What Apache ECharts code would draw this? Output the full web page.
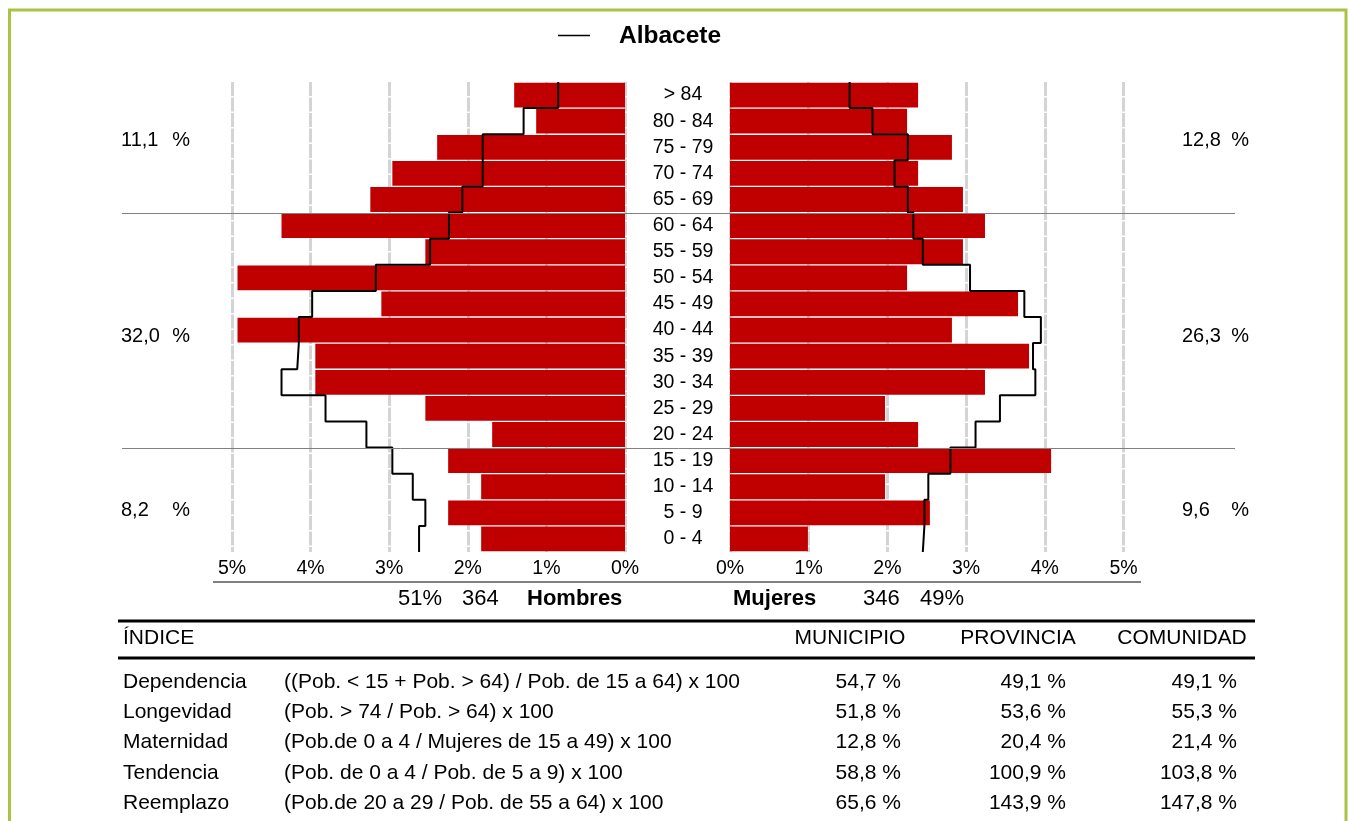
<!DOCTYPE html>
<html><head><meta charset="utf-8">
<script src="https://cdn.jsdelivr.net/npm/echarts@6/dist/echarts.min.js"></script>
<style>html,body{margin:0;padding:0;background:#fff}#c{width:1349px;height:821px}</style>
</head><body><div id="c"></div>
<script>
// ---- data (ordered bottom to top) ----
const categories = ['0 - 4','5 - 9','10 - 14','15 - 19','20 - 24','25 - 29','30 - 34','35 - 39','40 - 44','45 - 49','50 - 54','55 - 59','60 - 64','65 - 69','70 - 74','75 - 79','80 - 84','> 84'];
const hombres = [1.83, 2.25, 1.83, 2.25, 1.69, 2.54, 3.94, 3.94, 4.93, 3.10, 4.93, 2.54, 4.37, 3.24, 2.96, 2.39, 1.13, 1.41];
const mujeres = [0.99, 2.54, 1.97, 4.08, 2.39, 1.97, 3.24, 3.80, 2.82, 3.66, 2.25, 2.96, 3.24, 2.96, 2.39, 2.82, 2.25, 2.39];
const provHombres = [2.62, 2.54, 2.70, 2.96, 3.29, 3.81, 4.37, 4.17, 4.15, 3.98, 3.17, 2.48, 2.24, 2.07, 1.81, 1.81, 1.29, 0.85];
const provMujeres = [2.45, 2.47, 2.52, 2.80, 3.12, 3.43, 3.88, 3.85, 3.95, 3.74, 3.05, 2.45, 2.33, 2.26, 2.09, 2.26, 1.81, 1.52];
const legendName = 'Albacete';
const sideLeft = ['11,1', '32,0', '8,2'];
const sideRight = ['12,8', '26,3', '9,6'];
const hombresLabel = ['51%', '364', 'Hombres'];
const mujeresLabel = ['Mujeres', '346', '49%'];
const tableHeaders = ['ÍNDICE', 'MUNICIPIO', 'PROVINCIA', 'COMUNIDAD'];
const indexNames = ['Dependencia', 'Longevidad', 'Maternidad', 'Tendencia', 'Reemplazo'];
const indexFormulas = ['((Pob. < 15 + Pob. > 64) / Pob. de 15 a 64) x 100', '(Pob. > 74 / Pob. > 64) x 100', '(Pob.de 0 a 4 / Mujeres de 15 a 49) x 100', '(Pob. de 0 a 4 / Pob. de 5 a 9) x 100', '(Pob.de 20 a 29 / Pob. de 55 a 64) x 100'];
const municipio = ['54,7 %', '51,8 %', '12,8 %', '58,8 %', '65,6 %'];
const provincia = ['49,1 %', '53,6 %', '20,4 %', '100,9 %', '143,9 %'];
const comunidad = ['49,1 %', '55,3 %', '21,4 %', '103,8 %', '147,8 %'];

const FONT = '"Liberation Sans", Arial, sans-serif';
function steps(vals) {
  const out = [];
  for (let i = vals.length - 1; i >= 0; i--) { out.push([vals[i], i + 0.5]); out.push([vals[i], i - 0.5]); }
  return out;
}
const splitStyle = { show: true, lineStyle: { color: '#d4d4d4', width: 3, type: [14, 1.5] } };
function xAx(grid, inv) {
  return { gridIndex: grid, type: 'value', min: 0, max: 5, interval: 1, inverse: inv,
    axisLine: { show: false }, axisTick: { show: false }, splitLine: splitStyle,
    axisLabel: { formatter: '{value}%', fontSize: 19.5, color: '#000', fontFamily: FONT, margin: 7 } };
}
const chart = echarts.init(document.getElementById('c'));
chart.setOption({
  animation: false,
  backgroundColor: '#fff',
  grid: [
    { left: 232, width: 393, top: 82, height: 470 },
    { left: 730, width: 393.5, top: 82, height: 470 }
  ],
  xAxis: [xAx(0, true), xAx(1, false)],
  yAxis: [
    { gridIndex: 0, type: 'category', data: categories, axisLine: { show: false }, axisTick: { show: false }, axisLabel: { show: false } },
    { gridIndex: 1, type: 'category', data: categories, axisLine: { show: false }, axisTick: { show: false },
      axisLabel: { align: 'center', margin: 47, fontSize: 19.5, color: '#000', fontFamily: FONT, padding: [3, 0, 0, 0] } },
    { gridIndex: 0, type: 'value', min: -0.5, max: 17.5, show: false },
    { gridIndex: 1, type: 'value', min: -0.5, max: 17.5, show: false }
  ],
  series: [
    { type: 'bar', name: 'Hombres', xAxisIndex: 0, yAxisIndex: 0, data: hombres, barCategoryGap: '5%', itemStyle: { color: '#c00000' } },
    { type: 'bar', name: 'Mujeres', xAxisIndex: 1, yAxisIndex: 1, data: mujeres, barCategoryGap: '5%', itemStyle: { color: '#c00000' } },
    { type: 'line', name: legendName, xAxisIndex: 0, yAxisIndex: 2, data: steps(provHombres), symbol: 'none', z: 5, lineStyle: { color: '#000', width: 2 } },
    { type: 'line', name: legendName, xAxisIndex: 1, yAxisIndex: 3, data: steps(provMujeres), symbol: 'none', z: 5, lineStyle: { color: '#000', width: 2 } }
  ]
});

const sepTop = chart.convertToPixel({ yAxisIndex: 2 }, 12.5);
const sepBot = chart.convertToPixel({ yAxisIndex: 2 }, 3.5);
const g = [];
function txt(t, x, y, size, align, bold) {
  g.push({ type: 'text', silent: true, z: 10, style: { text: t, x: x, y: y, font: (bold ? 'bold ' : '') + size + 'px ' + FONT, fill: '#000', textAlign: align, textVerticalAlign: 'middle' } });
}
function ln(x1, y1, x2, y2, w, c) {
  g.push({ type: 'line', silent: true, z: 10, shape: { x1: x1, y1: y1, x2: x2, y2: y2 }, style: { stroke: c, lineWidth: w } });
}
// frame
g.push({ type: 'rect', silent: true, shape: { x: 9.5, y: 10, width: 1336.5, height: 900 }, style: { fill: 'none', stroke: '#a9c443', lineWidth: 3 } });
// legend
ln(558, 35.5, 590, 35.5, 1.5, '#000');
txt(legendName, 619, 36, 24.5, 'left', true);
// separators
ln(122, Math.round(sepTop) + 0.5, 1235, Math.round(sepTop) + 0.5, 1, '#808080');
ln(122, Math.round(sepBot) + 0.5, 1235, Math.round(sepBot) + 0.5, 1, '#808080');
// side labels
const sideY = [140, 336, 510];
sideLeft.forEach((v, i) => { txt(v, 121, sideY[i], 20, 'left'); txt('%', 190, sideY[i], 20, 'right'); });
sideRight.forEach((v, i) => { txt(v, 1182, sideY[i], 20, 'left'); txt('%', 1249, sideY[i], 20, 'right'); });
// axis baseline
ln(213, 582, 1141, 582, 2, '#808080');
// totals
txt(hombresLabel[0], 398, 599, 22, 'left');
txt(hombresLabel[1], 462, 599, 22, 'left');
txt(hombresLabel[2], 527, 599, 22, 'left', true);
txt(mujeresLabel[0], 733, 599, 22, 'left', true);
txt(mujeresLabel[1], 863, 599, 22, 'left');
txt(mujeresLabel[2], 920, 599, 22, 'left');
// table
ln(118, 621, 1255, 621, 3, '#000');
ln(118, 658, 1255, 658, 3, '#000');
txt(tableHeaders[0], 123, 638, 21, 'left');
txt(tableHeaders[1], 850, 638, 21, 'center');
txt(tableHeaders[2], 1018, 638, 21, 'center');
txt(tableHeaders[3], 1182, 638, 21, 'center');
const rowY = [682, 712, 742, 773, 803];
indexNames.forEach((n, i) => {
  txt(n, 123, rowY[i], 21, 'left');
  txt(indexFormulas[i], 284, rowY[i], 21, 'left');
  txt(municipio[i], 901, rowY[i], 21, 'right');
  txt(provincia[i], 1066, rowY[i], 21, 'right');
  txt(comunidad[i], 1237, rowY[i], 21, 'right');
});
chart.setOption({ graphic: g });
</script></body></html>
